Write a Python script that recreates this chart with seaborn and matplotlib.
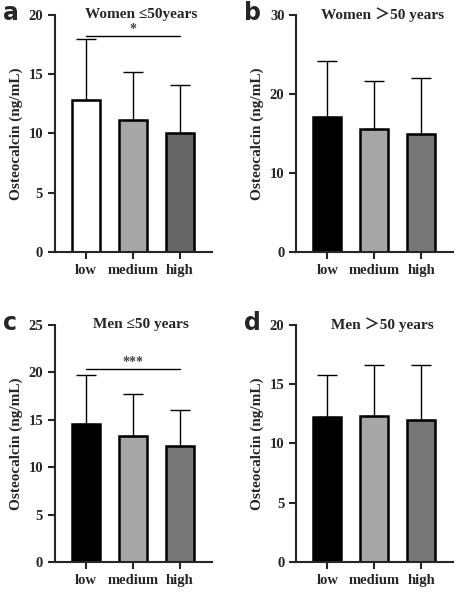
import matplotlib
matplotlib.use("Agg")
import matplotlib.pyplot as plt
import seaborn as sns
import pandas as pd

groups = ["low", "medium", "high"]
titles = ["Women ≤50years", "Women ＞50 years", "Men ≤50 years", "Men ＞50 years"]
letters = ["a", "b", "c", "d"]
means = [[12.8, 11.1, 10.0], [17.1, 15.6, 14.9], [14.6, 13.3, 12.2], [12.2, 12.3, 12.0]]
sds = [[5.2, 4.1, 4.1], [7.1, 6.0, 7.1], [5.1, 4.4, 3.8], [3.6, 4.3, 4.6]]
ymax = [20, 30, 25, 20]
ystep = [5, 10, 5, 5]
palettes = [["#ffffff", "#a6a6a6", "#666666"], ["#000000", "#a6a6a6", "#777777"],
            ["#000000", "#a6a6a6", "#777777"], ["#000000", "#a6a6a6", "#777777"]]
sig = {0: ("*", 18.2), 2: ("***", 20.3)}

sns.set_style("ticks")
plt.rcParams['font.family'] = ['Liberation Serif', 'Noto Sans CJK SC', 'DejaVu Serif']
plt.rcParams['font.weight'] = 'bold'

fig = plt.figure(figsize=(4.74, 5.94), dpi=100)
pos = [(0.116, 0.576), (0.625, 0.576), (0.116, 0.054), (0.625, 0.054)]
for i in range(4):
    ax = fig.add_axes([pos[i][0], pos[i][1], 0.331, 0.399])
    df = pd.DataFrame({"g": groups, "m": means[i]})
    sns.barplot(data=df, x="g", y="m", hue="g", palette=palettes[i], legend=False,
                edgecolor="black", linewidth=1.8, width=0.6, ax=ax)
    ax.errorbar(range(3), means[i], yerr=[[0, 0, 0], sds[i]], fmt="none",
                ecolor="black", elinewidth=1, capsize=7, capthick=1)
    ax.set_ylim(0, ymax[i])
    ax.set_xlim(-0.66, 2.68)
    ax.set_yticks(range(0, ymax[i] + 1, ystep[i]))
    ax.set_xlabel("")
    ax.set_ylabel("Osteocalcin (ng/mL)", fontsize=11, fontweight="bold")
    ax.tick_params(labelsize=10.5, width=1.5, length=5)
    for lab in ax.get_xticklabels() + ax.get_yticklabels():
        lab.set_fontweight("bold")
    for s in ["left", "bottom"]:
        ax.spines[s].set_linewidth(1.5)
    sns.despine(ax=ax)
    ax.text(0.55, 1.0, titles[i], transform=ax.transAxes, ha="center", va="center",
            fontsize=11, fontweight="bold")
    fig.text(pos[i][0] - 0.11, pos[i][1] + 0.399 + 0.003, letters[i], ha="left", va="center",
             fontsize=17, fontweight="bold", family="DejaVu Sans")
    if i in sig:
        t, y = sig[i]
        ax.plot([0, 2], [y, y], color="black", lw=1)
        ax.text(1, y, t, ha="center", va="bottom", fontsize=10, fontweight="bold", color="#444444")

fig.savefig("out.png", dpi=100)
